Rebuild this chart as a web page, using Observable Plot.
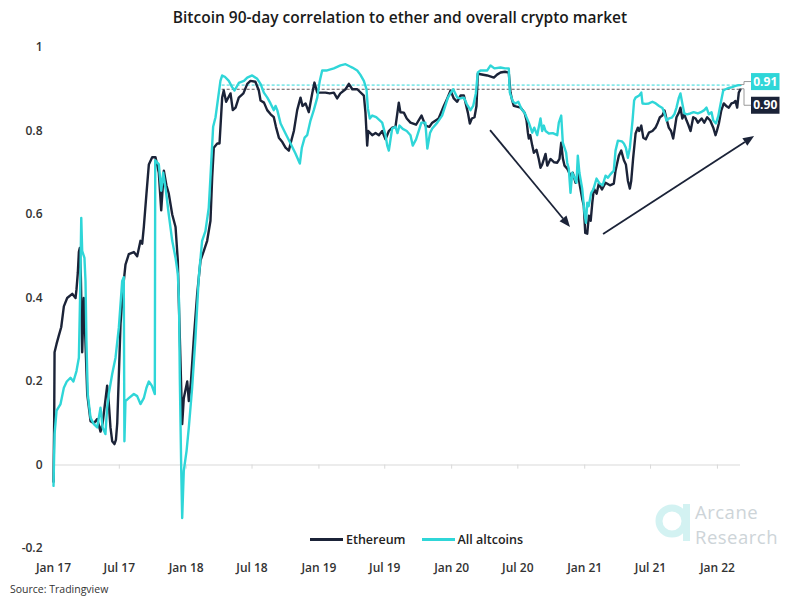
<!DOCTYPE html>
<html><head><meta charset="utf-8">
<script src="https://cdn.jsdelivr.net/npm/d3@7"></script>
<script src="https://cdn.jsdelivr.net/npm/@observablehq/plot@0.6"></script>
<style>
html,body{margin:0;padding:0;background:#fff;}
#wrap{position:relative;width:800px;height:600px;overflow:hidden;font-family:"Open Sans",sans-serif;}
#chart{position:absolute;left:0;top:0;}
#title{position:absolute;top:6px;left:0;width:800px;text-align:center;font-size:15.5px;font-weight:600;color:#1a1a1a;line-height:22px;}
#legend{position:absolute;top:530px;left:310px;height:18px;display:flex;align-items:center;font-size:12.5px;font-weight:600;color:#222;}
#legend .item{display:flex;align-items:center;margin-right:16px;}
#legend .sw{display:inline-block;width:33px;height:3px;margin-right:3px;}
#source{position:absolute;left:10px;top:582px;font-size:10.5px;color:#333;}
#logo{position:absolute;left:650px;top:496px;}
#logotext{position:absolute;left:695px;top:499px;font-size:18.5px;letter-spacing:0.5px;line-height:25px;color:#cdd4d8;}
#logotext div{height:25px;}
</style></head>
<body><div id="wrap">
<div id="chart"></div>
<div id="title"></div>
<div id="legend"></div>
<div id="source"></div>
<svg id="logo" width="45" height="55">
  <circle cx="22" cy="25" r="13" fill="none" stroke="#d3f2f2" stroke-width="7"/>
  <rect x="33" y="8" width="7" height="37" fill="#d3f2f2"/>
</svg>
<div id="logotext"><div>Arcane</div><div>Research</div></div>
</div>
<script>
const TITLE = "Bitcoin 90-day correlation to ether and overall crypto market";
const SOURCE = "Source: Tradingview";
const SERIES = ["Ethereum", "All altcoins"];
const COLORS = ["#1b2338", "#2fd6d8"];

// x tick dates and labels
const xTickDates = ["2017-01-01","2017-07-01","2018-01-01","2018-07-01","2019-01-01","2019-07-01","2020-01-01","2020-07-01","2021-01-01","2021-07-01","2022-01-01"];
const xTickLabels = ["Jan 17","Jul 17","Jan 18","Jul 18","Jan 19","Jul 19","Jan 20","Jul 20","Jan 21","Jul 21","Jan 22"];
const yTicks = [-0.2, 0, 0.2, 0.4, 0.6, 0.8, 1];
const yTickLabels = ["-0.2","0","0.2","0.4","0.6","0.8","1"];

// series: [years since 2017-01-01, correlation]
const ethereum = [[0,-0.04],[0.005,0.10],[0.008,0.27],[0.023,0.29],[0.04,0.31],[0.058,0.33],[0.078,0.38],[0.103,0.40],[0.141,0.41],[0.166,0.40],[0.173,0.42],[0.183,0.46],[0.191,0.51],[0.198,0.52],[0.206,0.45],[0.216,0.27],[0.228,0.40],[0.24,0.30],[0.254,0.17],[0.279,0.105],[0.304,0.10],[0.329,0.11],[0.354,0.08],[0.37,0.10],[0.404,0.19],[0.416,0.15],[0.429,0.09],[0.442,0.057],[0.459,0.05],[0.47,0.06],[0.48,0.10],[0.505,0.34],[0.529,0.44],[0.542,0.48],[0.567,0.505],[0.605,0.51],[0.63,0.50],[0.655,0.537],[0.668,0.53],[0.68,0.57],[0.7,0.65],[0.718,0.72],[0.743,0.737],[0.768,0.737],[0.793,0.70],[0.811,0.61],[0.831,0.705],[0.85,0.67],[0.868,0.65],[0.894,0.60],[0.919,0.57],[0.936,0.49],[0.944,0.386],[0.956,0.25],[0.969,0.098],[0.981,0.16],[1.007,0.20],[1.019,0.153],[1.035,0.20],[1.057,0.305],[1.082,0.41],[1.107,0.49],[1.132,0.513],[1.157,0.537],[1.182,0.585],[1.195,0.69],[1.207,0.76],[1.233,0.77],[1.25,0.77],[1.27,0.88],[1.282,0.897],[1.3,0.87],[1.333,0.89],[1.35,0.85],[1.371,0.856],[1.395,0.88],[1.43,0.89],[1.459,0.913],[1.483,0.92],[1.52,0.918],[1.546,0.897],[1.559,0.873],[1.585,0.868],[1.609,0.85],[1.635,0.84],[1.659,0.833],[1.675,0.81],[1.697,0.784],[1.72,0.775],[1.747,0.76],[1.772,0.753],[1.785,0.77],[1.81,0.80],[1.835,0.85],[1.86,0.88],[1.875,0.86],[1.898,0.866],[1.922,0.845],[1.948,0.89],[1.965,0.916],[1.986,0.892],[2.02,0.892],[2.048,0.892],[2.08,0.89],[2.111,0.892],[2.136,0.878],[2.16,0.89],[2.199,0.90],[2.224,0.913],[2.25,0.90],[2.287,0.90],[2.337,0.885],[2.349,0.844],[2.362,0.765],[2.37,0.80],[2.4,0.79],[2.425,0.795],[2.45,0.79],[2.475,0.80],[2.5,0.78],[2.525,0.80],[2.551,0.808],[2.575,0.81],[2.6,0.868],[2.612,0.845],[2.638,0.844],[2.66,0.83],[2.688,0.82],[2.73,0.815],[2.771,0.837],[2.801,0.813],[2.83,0.81],[2.852,0.82],[2.9,0.83],[2.939,0.86],[2.965,0.878],[2.99,0.897],[3.014,0.878],[3.04,0.87],[3.065,0.885],[3.09,0.885],[3.12,0.844],[3.135,0.818],[3.15,0.83],[3.17,0.833],[3.185,0.86],[3.195,0.937],[3.266,0.933],[3.316,0.928],[3.34,0.935],[3.366,0.94],[3.4,0.942],[3.428,0.94],[3.441,0.892],[3.454,0.873],[3.466,0.86],[3.517,0.856],[3.547,0.844],[3.562,0.825],[3.572,0.796],[3.579,0.782],[3.59,0.79],[3.605,0.765],[3.617,0.748],[3.637,0.755],[3.654,0.733],[3.667,0.712],[3.68,0.72],[3.705,0.745],[3.718,0.717],[3.742,0.733],[3.77,0.725],[3.793,0.724],[3.81,0.733],[3.823,0.772],[3.835,0.735],[3.848,0.717],[3.868,0.71],[3.893,0.693],[3.91,0.70],[3.931,0.676],[3.948,0.70],[3.963,0.67],[3.981,0.638],[3.993,0.621],[4.004,0.556],[4.019,0.554],[4.031,0.597],[4.045,0.585],[4.057,0.628],[4.069,0.662],[4.09,0.65],[4.106,0.674],[4.13,0.66],[4.157,0.676],[4.19,0.67],[4.219,0.674],[4.232,0.705],[4.257,0.741],[4.275,0.753],[4.295,0.73],[4.31,0.72],[4.325,0.681],[4.34,0.662],[4.35,0.68],[4.365,0.736],[4.383,0.794],[4.4,0.808],[4.41,0.80],[4.426,0.813],[4.441,0.784],[4.46,0.78],[4.483,0.796],[4.51,0.80],[4.533,0.808],[4.55,0.82],[4.566,0.833],[4.585,0.837],[4.601,0.849],[4.615,0.83],[4.633,0.808],[4.65,0.80],[4.666,0.782],[4.68,0.81],[4.691,0.833],[4.709,0.844],[4.721,0.856],[4.735,0.83],[4.75,0.84],[4.767,0.825],[4.78,0.815],[4.797,0.80],[4.817,0.833],[4.835,0.83],[4.852,0.82],[4.88,0.83],[4.9,0.82],[4.922,0.833],[4.945,0.825],[4.968,0.808],[4.985,0.79],[4.995,0.80],[5.01,0.818],[5.028,0.849],[5.047,0.866],[5.065,0.86],[5.085,0.856],[5.105,0.866],[5.123,0.868],[5.135,0.872],[5.148,0.856],[5.16,0.892],[5.173,0.90]];

const allAltcoins = [[0,-0.05],[0.008,0.074],[0.023,0.13],[0.053,0.146],[0.078,0.185],[0.1,0.2],[0.128,0.209],[0.15,0.2],[0.173,0.225],[0.191,0.257],[0.2,0.4],[0.209,0.592],[0.216,0.513],[0.233,0.496],[0.241,0.44],[0.248,0.297],[0.258,0.17],[0.279,0.113],[0.304,0.098],[0.329,0.09],[0.354,0.137],[0.37,0.09],[0.391,0.074],[0.404,0.137],[0.416,0.17],[0.442,0.218],[0.467,0.257],[0.492,0.329],[0.517,0.44],[0.529,0.45],[0.534,0.057],[0.542,0.153],[0.567,0.16],[0.605,0.17],[0.63,0.165],[0.655,0.146],[0.68,0.16],[0.7,0.185],[0.718,0.2],[0.74,0.19],[0.763,0.17],[0.766,0.73],[0.793,0.72],[0.811,0.657],[0.826,0.7],[0.845,0.66],[0.868,0.6],[0.894,0.537],[0.919,0.496],[0.936,0.458],[0.945,0.393],[0.951,0.21],[0.962,-0.014],[0.969,-0.127],[0.981,-0.014],[1.002,0.034],[1.019,0.09],[1.044,0.185],[1.069,0.305],[1.094,0.45],[1.119,0.537],[1.144,0.56],[1.169,0.616],[1.182,0.69],[1.202,0.81],[1.22,0.833],[1.237,0.873],[1.257,0.92],[1.27,0.933],[1.29,0.93],[1.32,0.92],[1.345,0.905],[1.363,0.897],[1.395,0.915],[1.434,0.92],[1.459,0.928],[1.496,0.933],[1.534,0.925],[1.559,0.913],[1.584,0.892],[1.61,0.88],[1.634,0.866],[1.659,0.85],[1.672,0.86],[1.685,0.85],[1.71,0.818],[1.747,0.794],[1.785,0.77],[1.822,0.746],[1.855,0.722],[1.87,0.76],[1.891,0.784],[1.91,0.79],[1.935,0.825],[1.96,0.85],[1.986,0.88],[2.005,0.92],[2.023,0.945],[2.06,0.945],[2.111,0.95],[2.161,0.957],[2.199,0.96],[2.23,0.955],[2.25,0.952],[2.287,0.945],[2.31,0.935],[2.337,0.92],[2.357,0.9],[2.367,0.854],[2.382,0.83],[2.4,0.837],[2.43,0.833],[2.475,0.82],[2.5,0.79],[2.513,0.765],[2.525,0.753],[2.55,0.806],[2.575,0.81],[2.59,0.795],[2.605,0.813],[2.63,0.805],[2.66,0.8],[2.688,0.79],[2.705,0.765],[2.73,0.78],[2.77,0.82],[2.8,0.82],[2.815,0.758],[2.835,0.795],[2.852,0.806],[2.89,0.82],[2.926,0.837],[2.95,0.86],[2.97,0.88],[2.992,0.892],[3.01,0.9],[3.04,0.88],[3.065,0.878],[3.09,0.88],[3.11,0.866],[3.12,0.86],[3.14,0.85],[3.16,0.86],[3.18,0.89],[3.195,0.94],[3.215,0.945],[3.266,0.945],[3.291,0.957],[3.32,0.95],[3.366,0.952],[3.4,0.95],[3.428,0.95],[3.436,0.892],[3.46,0.87],[3.479,0.866],[3.5,0.87],[3.522,0.854],[3.547,0.844],[3.579,0.82],[3.605,0.796],[3.62,0.808],[3.642,0.79],[3.667,0.83],[3.68,0.8],[3.692,0.813],[3.705,0.8],[3.73,0.794],[3.76,0.795],[3.793,0.79],[3.805,0.82],[3.823,0.837],[3.835,0.772],[3.86,0.748],[3.868,0.724],[3.88,0.71],[3.893,0.652],[3.906,0.7],[3.92,0.69],[3.938,0.676],[3.948,0.741],[3.96,0.7],[3.981,0.662],[3.998,0.604],[4.009,0.58],[4.019,0.628],[4.03,0.62],[4.049,0.652],[4.065,0.66],[4.089,0.686],[4.11,0.675],[4.135,0.67],[4.157,0.693],[4.175,0.688],[4.19,0.695],[4.219,0.705],[4.232,0.753],[4.25,0.777],[4.28,0.775],[4.295,0.77],[4.31,0.76],[4.325,0.736],[4.34,0.76],[4.36,0.825],[4.372,0.873],[4.383,0.88],[4.41,0.885],[4.426,0.892],[4.435,0.866],[4.46,0.865],[4.483,0.866],[4.51,0.87],[4.535,0.866],[4.56,0.86],[4.585,0.855],[4.601,0.842],[4.616,0.825],[4.635,0.83],[4.655,0.832],[4.675,0.84],[4.691,0.856],[4.709,0.88],[4.721,0.89],[4.735,0.866],[4.75,0.842],[4.77,0.84],[4.795,0.842],[4.82,0.845],[4.852,0.842],[4.875,0.845],[4.9,0.85],[4.917,0.856],[4.935,0.84],[4.955,0.845],[4.968,0.825],[4.988,0.818],[5.005,0.835],[5.028,0.873],[5.043,0.897],[5.06,0.9],[5.085,0.903],[5.11,0.905],[5.135,0.908],[5.16,0.91],[5.173,0.91]];

// annotation arrows: [t1, v1, t2, v2]
const arrowsData = [[3.291, 0.801, 3.893, 0.569], [4.142, 0.552, 5.279, 0.787]];
// reference dashed lines start
const refStartT = 1.27;

const T0 = Date.UTC(2017, 0, 1);
const toDate = t => new Date(T0 + t * 365.25 * 864e5);
const seriesData = [ethereum, allAltcoins];
const rows = seriesData.map((s, i) => s.map(([t, v]) => ({date: toDate(t), value: v, series: SERIES[i]})));
const lastT = ethereum[ethereum.length - 1][0];
const tickDates = xTickDates.map(s => new Date(s + "T00:00:00Z"));
const xLabelMap = new Map(tickDates.map((d, i) => [+d, xTickLabels[i]]));

const lastPts = seriesData.map((s, i) => ({date: toDate(s[s.length-1][0]), value: s[s.length-1][1], color: COLORS[i], text: s[s.length-1][1].toFixed(2)}));
const labelDy = [16.5, -3];
const refLines = lastPts.map((p, i) => ({x1: toDate(refStartT), x2: p.date, y: p.value, color: i === 0 ? "#5e5455" : COLORS[1]}));

function arrowMark(index, scales) {
  const g = d3.create("svg:g");
  for (const [t1, v1, t2, v2] of arrowsData) {
    const x1 = scales.x(toDate(t1)), y1 = scales.y(v1), x2 = scales.x(toDate(t2)), y2 = scales.y(v2);
    const a = Math.atan2(y2 - y1, x2 - x1), L = 11, w = 4.5;
    const bx = x2 - L * Math.cos(a), by = y2 - L * Math.sin(a);
    g.append("line").attr("x1", x1).attr("y1", y1).attr("x2", bx).attr("y2", by).attr("stroke", COLORS[0]).attr("stroke-width", 1.8);
    g.append("path").attr("d", `M${x2},${y2}L${bx + w*Math.sin(a)},${by - w*Math.cos(a)}L${bx - w*Math.sin(a)},${by + w*Math.cos(a)}Z`).attr("fill", COLORS[0]);
  }
  return g.node();
}

function endLabelMark(index, scales) {
  const g = d3.create("svg:g");
  lastPts.forEach((p, i) => {
    const x0 = scales.x(p.date), y0 = scales.y(p.value);
    const by = y0 + labelDy[i], bx = x0 + 11, bw = 28.5, bh = 17;
    g.append("path").attr("d", `M${x0},${y0}L${x0+4},${y0}L${x0+4},${by}L${bx},${by}`).attr("fill", "none").attr("stroke", "#9a9a9a").attr("stroke-width", 1);
    g.append("rect").attr("x", bx).attr("y", by - bh/2).attr("width", bw).attr("height", bh).attr("fill", p.color);
    g.append("text").attr("x", bx + bw/2).attr("y", by).attr("dy", "0.35em").attr("text-anchor", "middle")
      .attr("fill", "#fff").attr("font-size", 12).attr("font-weight", 700).text(p.text);
  });
  return g.node();
}

const chart = Plot.plot({
  width: 800, height: 600,
  marginTop: 47, marginBottom: 52, marginLeft: 53, marginRight: 60,
  style: {fontFamily: "Open Sans", fontSize: "12px", fontWeight: 600, color: "#333", background: "transparent", overflow: "visible"},
  x: {type: "utc", domain: [toDate(0), toDate(lastT)], ticks: tickDates, tickFormat: d => xLabelMap.get(+d), tickSize: 0, tickPadding: 15, label: null},
  y: {domain: [-0.2, 1], ticks: yTicks, tickFormat: d => yTickLabels[yTicks.indexOf(d)], tickSize: 0, tickPadding: 11, label: null},
  marks: [
    Plot.ruleY([0], {stroke: "#d9d9d9", strokeWidth: 1}),
    Plot.ruleX(tickDates, {y1: 0, y2: -0.01, stroke: "#d9d9d9"}),
    Plot.ruleY(refLines, {x1: "x1", x2: "x2", y: "y", stroke: "color", strokeDasharray: "3,2", strokeWidth: 1}),
    Plot.line(rows[0], {x: "date", y: "value", stroke: COLORS[0], strokeWidth: 2.4}),
    Plot.line(rows[1], {x: "date", y: "value", stroke: COLORS[1], strokeWidth: 2.4}),
    arrowMark,
    endLabelMark
  ]
});
document.getElementById("chart").appendChild(chart);
document.getElementById("title").textContent = TITLE;
document.getElementById("source").textContent = SOURCE;
const leg = document.getElementById("legend");
SERIES.forEach((s, i) => {
  const it = document.createElement("span"); it.className = "item";
  const sw = document.createElement("span"); sw.className = "sw"; sw.style.background = COLORS[i];
  const tx = document.createElement("span"); tx.textContent = s;
  it.appendChild(sw); it.appendChild(tx); leg.appendChild(it);
});
</script>
</body></html>
